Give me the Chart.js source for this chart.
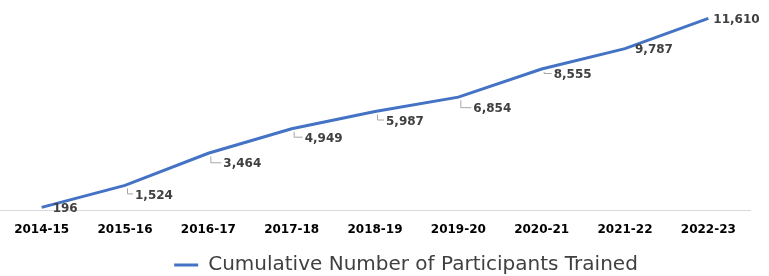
<!DOCTYPE html>
<html>
<head>
<meta charset="utf-8">
<script src="https://cdn.jsdelivr.net/npm/chart.js@4"></script>
<style>
  html, body { margin: 0; padding: 0; background: #fff; }
  #wrap { width: 769px; height: 276px; }
</style>
</head>
<body>
<div id="wrap"><canvas id="chartPeserta"></canvas></div>
<script>
// data
const years = ['2014-15','2015-16','2016-17','2017-18','2018-19','2019-20','2020-21','2021-22','2022-23'];
const participants = [196, 1524, 3464, 4949, 5987, 6854, 8555, 9787, 11610];
const seriesName = 'Cumulative Number of Participants Trained';

// label placement relative to each point (text left, text middle)
const labelShift = [[11,2],[10,10],[15,11],[13,10],[11,10],[15,12],[12,6],[10,1],[5,1]];

const valueLabels = {
    id: 'valueLabels',
    afterLayout(chart) {
        // legend in the original sits a bit right of centre
        chart.legend.left += 32;
        chart.legend.right += 32;
    },
    afterDatasetsDraw(chart) {
        const ctx = chart.ctx;
        const pts = chart.getDatasetMeta(0).data;
        ctx.save();
        ctx.font = 'bold 12px "DejaVu Sans"';
        ctx.textBaseline = 'middle';
        ctx.textAlign = 'left';
        pts.forEach((p, i) => {
            const [dx, dy] = labelShift[i];
            const lx = p.x + dx, ly = p.y + dy;
            if (dy >= 6) {
                // small leader line
                ctx.strokeStyle = '#a6a6a6';
                ctx.lineWidth = 1;
                ctx.beginPath();
                ctx.moveTo(p.x + 2.5, p.y + 3);
                ctx.lineTo(p.x + 2.5, ly - 1.5);
                ctx.lineTo(lx - 2, ly - 1.5);
                ctx.stroke();
            }
            ctx.fillStyle = '#404040';
            ctx.fillText(participants[i].toLocaleString('en-US'), lx, ly);
        });
        ctx.restore();
    }
};

new Chart(document.getElementById('chartPeserta'), {
    type: 'line',
    data: {
        labels: years,
        datasets: [{
            label: seriesName,
            data: participants,
            borderColor: '#4472c4',
            backgroundColor: '#4472c4',
            borderWidth: 3,
            pointRadius: 0,
            tension: 0,
            fill: false
        }]
    },
    options: {
        responsive: true,
        maintainAspectRatio: false,
        animation: false,
        layout: { padding: { top: 12, left: -2, right: 19, bottom: -9 } },
        plugins: {
            tooltip: { enabled: false },
            legend: {
                position: 'bottom',
                labels: {
                    color: '#404040',
                    font: { family: '"DejaVu Sans"', size: 20 },
                    usePointStyle: true,
                    pointStyle: 'line',
                    pointStyleWidth: 24,
                    padding: 6
                }
            }
        },
        scales: {
            x: {
                offset: true,
                grid: { display: false, drawTicks: false },
                border: { color: '#d9d9d9', width: 1 },
                ticks: {
                    color: '#000',
                    padding: 12,
                    maxRotation: 0,
                    font: { family: '"DejaVu Sans"', size: 12, weight: 'bold' }
                }
            },
            y: {
                display: false,
                min: 0,
                max: 12000
            }
        }
    },
    plugins: [valueLabels]
});
</script>
</body>
</html>
